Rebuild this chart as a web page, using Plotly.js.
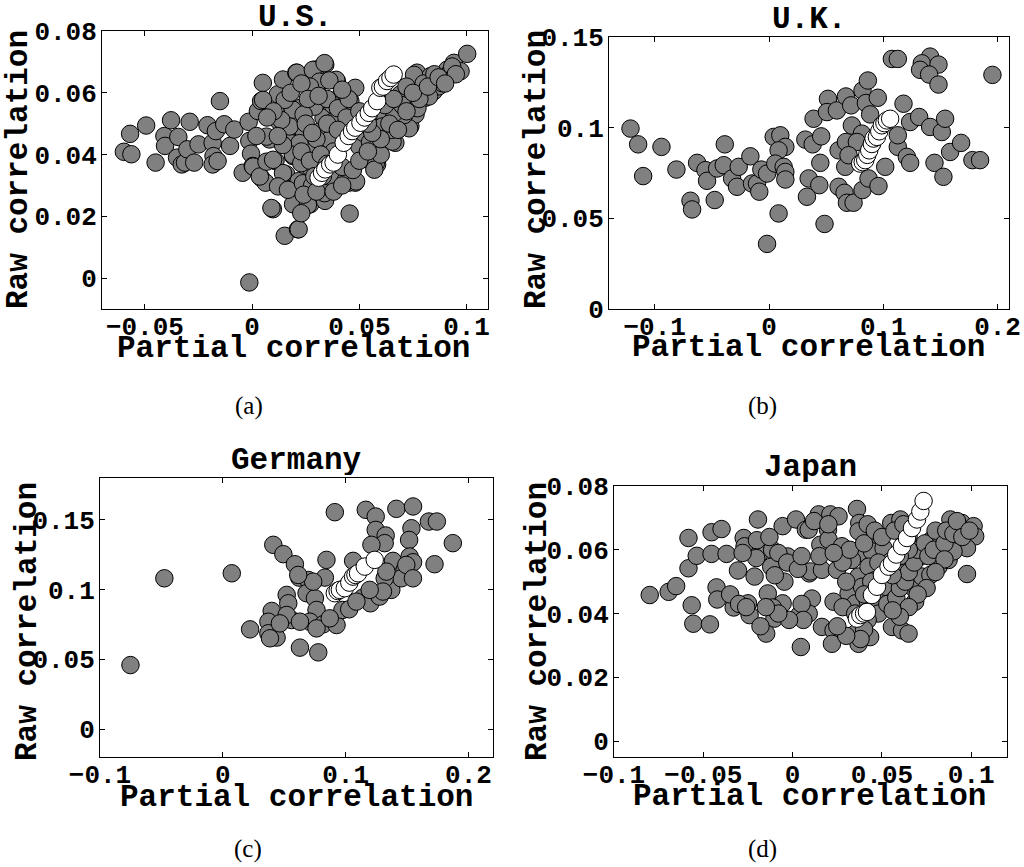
<!DOCTYPE html>
<html>
<head>
<meta charset="utf-8">
<script src="https://cdn.plot.ly/plotly-3.0.1.min.js"></script>
<style>
html,body{margin:0;padding:0;background:#fff;}
#chart{width:1024px;height:867px;}
</style>
</head>
<body>
<div id="chart"></div>
<script>
// ---------------- DATA ----------------
// Each point: [partial correlation, raw correlation]
const panelTitles = ["U.S.", "U.K.", "Germany", "Japan"];
const panelLabels = ["(a)", "(b)", "(c)", "(d)"];
const xAxisTitle = "Partial correlation";
const yAxisTitle = "Raw correlation";

const usGray = [
[-0.0598,0.0409],[-0.0563,0.0401],[-0.0569,0.0467],[-0.0494,0.0494],[-0.0450,0.0374],[-0.0409,0.0460],[-0.0406,0.0428],[-0.0378,0.0511],[-0.0344,0.0457],[-0.0350,0.0390],[-0.0328,0.0368],[-0.0313,0.0374],[-0.0302,0.0417],[-0.0291,0.0506],[-0.0270,0.0374],[-0.0250,0.0433],[-0.0208,0.0495],[-0.0184,0.0438],[-0.0180,0.0395],[-0.0184,0.0368],[-0.0161,0.0379],[-0.0169,0.0476],[-0.0150,0.0573],[-0.0130,0.0498],[-0.0103,0.0428],[-0.0083,0.0481],[-0.0044,0.0341],[-0.0016,0.0506],[-0.0013,0.0444],[-0.0005,0.0403],[0.0003,0.0363],[-0.0013,-0.0014],[0.0027,0.0541],[0.0042,0.0573],[0.0050,0.0632],[0.0042,0.0325],[0.0063,0.0309],[0.0081,0.0449],[0.0097,0.0223],[0.0109,0.0379],[0.0120,0.0595],[0.0125,0.0508],[0.0144,0.0643],[0.0152,0.0137],[0.0159,0.0336],[0.0175,0.0288],[0.0175,0.0438],[0.0188,0.0546],[0.0191,0.0239],[0.0191,0.0395],[0.0206,0.0665],[0.0214,0.0158],[0.0222,0.0487],
[0.0209,0.0665],[0.0341,0.0691],[0.0294,0.0675],[0.0309,0.0627],[0.0395,0.0638],[0.0481,0.0616],[0.0225,0.0551],[0.0294,0.0557],[0.0333,0.0519],[0.0411,0.0589],[0.0458,0.0573],[0.0193,0.0411],[0.0240,0.0476],[0.0248,0.0428],[0.0333,0.0476],[0.0380,0.0508],[0.0271,0.0358],[0.0217,0.0314],[0.0349,0.0282],[0.0271,0.0239],[0.0217,0.0158],[0.0340,0.0250],[0.0450,0.0309],[0.0481,0.0309],[0.0455,0.0209],[0.0533,0.0385],[0.0583,0.0368],[0.0580,0.0487],[0.0629,0.0455],[0.0668,0.0438],[0.0621,0.0514],[0.0676,0.0519],[0.0692,0.0595],[0.0738,0.0492],[0.0762,0.0530],[0.0777,0.0605],[0.0769,0.0665],[0.0832,0.0654],[0.0847,0.0605],[0.0910,0.0675],[0.0922,0.0665],[0.0941,0.0697],[0.0972,0.0670],[0.1003,0.0726],[0.0808,0.0584],[0.0871,0.0621],
[0.0283,0.0674],[0.0338,0.0696],[0.0392,0.0642],[0.0314,0.0636],[0.0291,0.0555],[0.0376,0.0561],[0.0407,0.0523],[0.0314,0.0474],[0.0361,0.0448],[0.0276,0.0415],[0.0314,0.0351],[0.0376,0.0318],[0.0338,0.0275],[0.0438,0.0318],[0.0485,0.0313],[0.0523,0.0394],[0.0577,0.0372],[0.0577,0.0437],[0.0655,0.0442],[0.0608,0.0491],[0.0732,0.0485],[0.0709,0.0528],[0.0663,0.0534],[0.0190,0.0545],[0.0175,0.0491],[0.0221,0.0437],[0.0190,0.0399],[0.0229,0.0372],[0.0144,0.0340],[0.0121,0.0297],[0.0167,0.0286],[0.0237,0.0307],[0.0260,0.0237],[0.0229,0.0210],[0.0090,0.0227],[0.0005,0.0361],[0.0036,0.0329],[0.0067,0.0377],[0.0098,0.0383],[0.0067,0.0458],[0.0144,0.0431],[0.0136,0.0512],[0.0152,0.0577],[0.0051,0.0577],[0.0446,0.0448],[0.0469,0.0491],[0.0500,0.0426],[0.0570,0.0351],[0.0771,0.0550],[0.0825,0.0588],[0.0887,0.0631],[0.0933,0.0685],[0.0755,0.0658],
[0.0270,0.0620],[0.0350,0.0580],[0.0400,0.0550],[0.0440,0.0520],[0.0300,0.0450],[0.0380,0.0410],[0.0420,0.0360],[0.0280,0.0300],[0.0330,0.0330],[0.0240,0.0530],[0.0450,0.0580],[0.0500,0.0540],[0.0520,0.0470],[0.0550,0.0440],[0.0600,0.0400],[0.0650,0.0480],[0.0700,0.0560],[0.0720,0.0620],[0.0800,0.0630],[0.0850,0.0660],[0.0890,0.0640],[0.0950,0.0660],[0.0780,0.0580],
[0.0180,0.0600],[0.0230,0.0630],[0.0260,0.0580],[0.0310,0.0590],[0.0360,0.0640],[0.0420,0.0610],[0.0250,0.0500],[0.0280,0.0470],[0.0350,0.0500],[0.0400,0.0480],[0.0230,0.0410],[0.0270,0.0380],[0.0320,0.0400],[0.0350,0.0370],[0.0290,0.0330],[0.0240,0.0270],[0.0300,0.0280],[0.0380,0.0280],[0.0420,0.0300],[0.0470,0.0350],[0.0500,0.0380],[0.0540,0.0410],[0.0600,0.0450],[0.0640,0.0500],[0.0680,0.0480],[0.0720,0.0540],[0.0750,0.0600],[0.0820,0.0620],[0.0870,0.0650],[0.0900,0.0630],[0.0560,0.0470],[0.0620,0.0560],[0.0660,0.0580],[0.0540,0.0500],[0.0120,0.0460],[0.0100,0.0540],[0.0070,0.0520],[0.0020,0.0460]
];
const usWhite = [
[0.0310,0.0325],[0.0326,0.0341],[0.0341,0.0352],[0.0364,0.0368],[0.0380,0.0374],[0.0400,0.0400],[0.0427,0.0438],[0.0450,0.0460],[0.0466,0.0476],[0.0481,0.0487],[0.0505,0.0503],[0.0525,0.0520],[0.0544,0.0535],[0.0560,0.0550],[0.0583,0.0573],[0.0598,0.0616],[0.0610,0.0620],[0.0629,0.0638],[0.0645,0.0648],[0.0660,0.0659]
];

const ukGray = [
[-0.1212,0.0995],[-0.1145,0.0908],[-0.1101,0.0733],[-0.0941,0.0894],[-0.0810,0.0769],[-0.0687,0.0597],[-0.0673,0.0549],[-0.0629,0.0806],[-0.0556,0.0766],[-0.0542,0.0707],[-0.0475,0.0601],[-0.0454,0.0775],[-0.0396,0.0793],[-0.0387,0.0908],[-0.0323,0.0720],[-0.0280,0.0674],[-0.0265,0.0784],[-0.0163,0.0842],[-0.0149,0.0692],[-0.0105,0.0692],[-0.0085,0.0647],[-0.0067,0.0769],[-0.0017,0.0747],[0.0041,0.0949],[0.0099,0.0958],[0.0143,0.0894],[0.0084,0.0875],[0.0055,0.0802],[0.0128,0.0784],[0.0143,0.0756],[0.0143,0.0714],[0.0084,0.0527],[-0.0017,0.0359],[0.0318,0.0934],[0.0382,0.0908],[0.0457,0.0952],[0.0449,0.0806],[0.0390,0.1049],[0.0347,0.0720],[0.0440,0.0683],[0.0332,0.0619],[0.0486,0.0469],[0.0516,0.1159],[0.0507,0.1086],[0.0594,0.1095],[0.0673,0.1172],[0.0719,0.1123],[0.0609,0.0875],[0.0673,0.0921],[0.0725,0.1012],[0.0667,0.0784],[0.0609,0.0674],[0.0661,0.0641],[0.0682,0.0586],[0.0740,0.0586],[0.0818,0.1205],[0.0865,0.1260],[0.0848,0.1136],[0.0952,0.1165],[0.0885,0.1073],[0.0818,0.0656],[0.0871,0.0720],[0.0958,0.0678],[0.1017,0.0784],[0.1127,0.0894],[0.1127,0.0958],[0.1177,0.1132],[0.1235,0.1031],[0.1314,0.1059],[0.1410,0.1004],[0.1206,0.0839],[0.1235,0.0806],[0.1448,0.0806],[0.1526,0.0729],[0.1512,0.0976],[0.1541,0.1049],[0.1585,0.0866],[0.1681,0.0916],[0.1780,0.0821],[0.1847,0.0821],[0.1955,0.1291],[0.1075,0.1379],[0.1127,0.1379],[0.1410,0.1392],[0.1337,0.1355],[0.1483,0.1348],[0.1322,0.1319],[0.1401,0.1293],[0.1483,0.1238],[0.0813,0.0967],[0.0769,0.0921],[0.0696,0.0848],[0.0900,0.0912]
];
const ukWhite = [
[0.0798,0.0802],[0.0820,0.0810],[0.0842,0.0821],[0.0860,0.0850],[0.0877,0.0875],[0.0900,0.0910],[0.0915,0.0940],[0.0944,0.0949],[0.0965,0.0980],[0.0987,0.1013],[0.1010,0.1025],[0.1031,0.1040],[0.1060,0.1049]
];

const deGray = [
[-0.0752,0.0459],[-0.0476,0.1081],[0.0073,0.1117],[0.0222,0.0715],[0.0411,0.1321],[0.0493,0.1254],[0.0587,0.1182],[0.0622,0.1086],[0.0696,0.1069],[0.0520,0.0962],[0.0533,0.0902],[0.0398,0.0847],[0.0371,0.0770],[0.0371,0.0687],[0.0438,0.0656],[0.0384,0.0651],[0.0560,0.0782],[0.0628,0.0584],[0.0777,0.0550],[0.0682,0.0974],[0.0750,0.0938],[0.0763,0.0854],[0.0709,0.0770],[0.0817,0.0751],[0.0926,0.0746],[0.0844,0.1213],[0.0831,0.1086],[0.0912,0.1555],[0.0974,0.0854],[0.1029,0.0859],[0.1061,0.1206],[0.1142,0.0943],[0.1202,0.0902],[0.1277,0.0950],[0.1372,0.0998],[0.1386,0.1206],[0.1164,0.1572],[0.1245,0.1524],[0.1245,0.1428],[0.1326,0.1388],[0.1318,0.1333],[0.1210,0.1321],[0.1413,0.1579],[0.1549,0.1596],[0.1536,0.1440],[0.1517,0.1356],[0.1678,0.1488],[0.1743,0.1488],[0.1873,0.1333],[0.1724,0.1182],[0.1521,0.1237],[0.1549,0.1196],[0.1480,0.1141],[0.1453,0.1081],[0.1318,0.1081],[0.1332,0.1129],[0.0736,0.1057],[0.0614,0.1105],
[0.0520,0.0818],[0.0465,0.0758],[0.0628,0.0770],[0.0763,0.0722],[0.0871,0.0794],[0.1088,0.0914],[0.1304,0.0986],[0.1196,0.0998],[0.1494,0.1177],[0.1548,0.1081]
];
const deWhite = [
[0.0912,0.0974],[0.0935,0.0990],[0.0953,0.0998],[0.0993,0.1010],[0.1030,0.1050],[0.1061,0.1093],[0.1080,0.1105],[0.1101,0.1117],[0.1156,0.1165],[0.1237,0.1213]
];

const jpGray = [
[-0.0800,0.0458],[-0.0694,0.0468],[-0.0652,0.0486],[-0.0565,0.0426],[-0.0556,0.0368],[-0.0463,0.0366],[-0.0583,0.0542],[-0.0583,0.0637],[-0.0537,0.0581],[-0.0454,0.0587],[-0.0370,0.0587],[-0.0454,0.0655],[-0.0398,0.0665],[-0.0426,0.0482],[-0.0422,0.0444],[-0.0330,0.0419],[-0.0306,0.0535],[-0.0274,0.0637],[-0.0269,0.0611],[-0.0250,0.0432],[-0.0241,0.0395],[-0.0213,0.0516],[-0.0194,0.0695],[-0.0185,0.0589],[-0.0204,0.0574],[-0.0139,0.0463],[-0.0115,0.0600],[-0.0120,0.0547],[-0.0102,0.0384],[-0.0148,0.0337],[-0.0056,0.0674],[-0.0028,0.0579],[-0.0046,0.0500],[0.0019,0.0695],[0.0037,0.0395],[0.0046,0.0295],[0.0074,0.0663],[0.0093,0.0526],[-0.0056,0.0432],[-0.0111,0.0419],
[0.0146,0.0711],[0.0211,0.0711],[0.0257,0.0705],[0.0090,0.0663],[0.0198,0.0663],[0.0360,0.0728],[0.0373,0.0684],[0.0369,0.0658],[0.0472,0.0642],[0.0552,0.0684],[0.0155,0.0616],[0.0201,0.0632],[0.0276,0.0611],[0.0369,0.0589],[0.0444,0.0595],[0.0509,0.0605],[0.0099,0.0532],[0.0164,0.0537],[0.0248,0.0537],[0.0332,0.0568],[0.0369,0.0516],[0.0425,0.0547],[0.0313,0.0463],[0.0351,0.0432],[0.0229,0.0437],[0.0108,0.0447],[0.0090,0.0400],[0.0164,0.0358],[0.0229,0.0347],[0.0220,0.0305],[0.0351,0.0337],[0.0369,0.0305],[0.0434,0.0326],[0.0556,0.0358],[0.0612,0.0347],[0.0649,0.0337],[0.0500,0.0442],[0.0519,0.0484],[0.0612,0.0526],[0.0668,0.0484],[0.0686,0.0437],[0.0724,0.0516],[0.0771,0.0521],[0.0715,0.0579],[0.0817,0.0547],[0.0873,0.0568],[0.0826,0.0642],[0.0883,0.0695],[0.0948,0.0684],[0.1013,0.0674],[0.1022,0.0642],[0.0976,0.0605],[0.0976,0.0524],[0.0901,0.0595],[0.0780,0.0632],[0.0603,0.0695],[0.0649,0.0642],[0.0547,0.0563],[0.0463,0.0505],[0.0388,0.0484],
[0.0420,0.0440],[0.0450,0.0420],[0.0480,0.0400],[0.0530,0.0430],[0.0580,0.0450],[0.0600,0.0480],[0.0630,0.0500],[0.0650,0.0530],[0.0680,0.0560],[0.0700,0.0600],[0.0740,0.0620],[0.0760,0.0580],[0.0790,0.0600],[0.0800,0.0660],[0.0850,0.0620],[0.0860,0.0660],[0.0900,0.0650],[0.0920,0.0690],[0.0950,0.0640],[0.0990,0.0660],[0.0850,0.0570],[0.0800,0.0530],[0.0750,0.0480],[0.0700,0.0460],[0.0650,0.0420],[0.0600,0.0390],[0.0560,0.0410],[0.0420,0.0380],[0.0400,0.0350],[0.0380,0.0320],[0.0300,0.0330],[0.0250,0.0360],[0.0280,0.0420],[0.0300,0.0500],[0.0280,0.0560],[0.0320,0.0600],[0.0400,0.0620],[0.0420,0.0680],[0.0460,0.0660],[0.0500,0.0640],[0.0570,0.0660],[0.0620,0.0680],[0.0650,0.0600],[0.0600,0.0580],[0.0560,0.0520],[0.0480,0.0560],[0.0440,0.0500],[0.0400,0.0460],[0.0350,0.0400],[0.0150,0.0580],[0.0120,0.0690],[0.0050,0.0430],[0.0060,0.0380],[0.0200,0.0680],[0.0230,0.0590],[-0.0020,0.0380],[-0.0080,0.0400],[-0.0150,0.0420],[-0.0180,0.0360],[-0.0350,0.0460],[-0.0300,0.0430],[-0.0260,0.0420],[-0.0280,0.0590],[-0.0200,0.0630],[-0.0130,0.0640],[-0.0080,0.0590],[-0.0030,0.0560],[0.0030,0.0540],[0.0050,0.0580],[-0.0100,0.0520]
];
const jpWhite = [
[0.0360,0.0384],[0.0379,0.0395],[0.0400,0.0400],[0.0416,0.0405],[0.0444,0.0458],[0.0472,0.0484],[0.0500,0.0521],[0.0537,0.0547],[0.0556,0.0558],[0.0580,0.0585],[0.0612,0.0611],[0.0640,0.0637],[0.0668,0.0668],[0.0696,0.0695],[0.0715,0.0720],[0.0733,0.0753]
];

// Tick values / labels
const xTicksA = [-0.05, 0, 0.05, 0.1], xLabelsA = ["\u22120.05", "0", "0.05", "0.1"];
const yTicksA = [0, 0.02, 0.04, 0.06, 0.08], yLabelsA = ["0", "0.02", "0.04", "0.06", "0.08"];
const xTicksB = [-0.1, 0, 0.1, 0.2], xLabelsB = ["\u22120.1", "0", "0.1", "0.2"];
const yTicksB = [0, 0.05, 0.1, 0.15], yLabelsB = ["0", "0.05", "0.1", "0.15"];
const xTicksC = [-0.1, 0, 0.1, 0.2], xLabelsC = ["\u22120.1", "0", "0.1", "0.2"];
const yTicksC = [0, 0.05, 0.1, 0.15], yLabelsC = ["0", "0.05", "0.1", "0.15"];
const xTicksD = [-0.1, -0.05, 0, 0.05, 0.1], xLabelsD = ["\u22120.1", "\u22120.05", "0", "0.05", "0.1"];
const yTicksD = [0, 0.02, 0.04, 0.06, 0.08], yLabelsD = ["0", "0.02", "0.04", "0.06", "0.08"];

// ---------------- LAYOUT HELPERS ----------------
const W = 1024, H = 867;
const px = v => v / W;
const py = v => 1 - v / H;
const MONO = "Liberation Mono, Courier New, monospace";
const SERIF = "Liberation Serif, Times New Roman, serif";

// plot boxes in pixels [left, right, top, bottom]
const boxes = [
  [102, 488, 31, 309],
  [609, 1009, 37, 309],
  [100, 493, 478, 757],
  [614, 1007, 486, 757]
];
const xRanges = [[-0.07, 0.11], [-0.14, 0.21], [-0.1, 0.22], [-0.1, 0.12]];
const yRanges = [[-0.01, 0.08], [0, 0.15], [-0.02, 0.18], [-0.005, 0.08]];
const xTickSets = [[xTicksA, xLabelsA], [xTicksB, xLabelsB], [xTicksC, xLabelsC], [xTicksD, xLabelsD]];
const yTickSets = [[yTicksA, yLabelsA], [yTicksB, yLabelsB], [yTicksC, yLabelsC], [yTicksD, yLabelsD]];

function axis(range, domain, anchor, tv, tt, standoff) {
  return {
    range: range, domain: domain, anchor: anchor,
    tickmode: 'array', tickvals: tv, ticktext: tt,
    ticks: 'inside', ticklen: 5, tickwidth: 1, tickcolor: '#000',
    showline: true, linecolor: '#000', linewidth: 1, mirror: 'allticks',
    showgrid: false, zeroline: false, fixedrange: true,
    ticklabelstandoff: standoff,
    tickfont: {family: MONO, size: 26, color: '#000', weight: 'bold'}
  };
}

const layout = {
  width: W, height: H,
  margin: {l: 0, r: 0, t: 0, b: 0},
  paper_bgcolor: '#fff', plot_bgcolor: '#fff',
  showlegend: false,
  annotations: []
};

const grayMarker = {size: 17.5, color: '#808080', line: {color: '#000', width: 1}};
const whiteMarker = {size: 17.5, color: '#ffffff', line: {color: '#000', width: 1}};
const grays = [usGray, ukGray, deGray, jpGray];
const whites = [usWhite, ukWhite, deWhite, jpWhite];
const traces = [];

for (let i = 0; i < 4; i++) {
  const s = i === 0 ? '' : String(i + 1);
  const b = boxes[i];
  layout['xaxis' + s] = axis(xRanges[i], [px(b[0]), px(b[1])], 'y' + s, xTickSets[i][0], xTickSets[i][1], -6);
  layout['yaxis' + s] = axis(yRanges[i], [py(b[3]), py(b[2])], 'x' + s, yTickSets[i][0], yTickSets[i][1], -1);
  traces.push({type: 'scatter', mode: 'markers', xaxis: 'x' + s, yaxis: 'y' + s,
    x: grays[i].map(p => p[0]), y: grays[i].map(p => p[1]), marker: grayMarker, hoverinfo: 'skip', cliponaxis: true});
  traces.push({type: 'scatter', mode: 'markers', xaxis: 'x' + s, yaxis: 'y' + s,
    x: whites[i].map(p => p[0]), y: whites[i].map(p => p[1]), marker: whiteMarker, hoverinfo: 'skip', cliponaxis: true});
}

// text positions (pixel centres)
const titlePos = [[295, 17], [809, 19], [296, 460], [810, 467]];
const xTitlePos = [[293, 348], [808, 347], [296, 797], [809, 796]];
const yTitlePos = [[19, 170], [537, 170], [27, 622], [537, 622]];
const labelPos = [[249, 406], [762, 406], [248, 849], [762, 849]];

function ann(text, p, font, angle, h) {
  const a = {text: text, xref: 'paper', yref: 'paper', x: px(p[0]), y: py(p[1]),
    xanchor: 'center', yanchor: 'middle', showarrow: false, textangle: angle || 0, font: font};
  if (h) a.height = h;
  return a;
}
const bigFont = {family: MONO, size: 31, color: '#000', weight: 'bold'};
for (let i = 0; i < 4; i++) {
  layout.annotations.push(ann(panelTitles[i], titlePos[i], bigFont, 0, 30));
  layout.annotations.push(ann(xAxisTitle, xTitlePos[i], bigFont, 0, 32));
  layout.annotations.push(ann(yAxisTitle, yTitlePos[i], bigFont, -90));
  layout.annotations.push(ann(panelLabels[i], labelPos[i], {family: SERIF, size: 25, color: '#000'}));
}

Plotly.newPlot('chart', traces, layout, {staticPlot: true, displayModeBar: false});
</script>
</body>
</html>
